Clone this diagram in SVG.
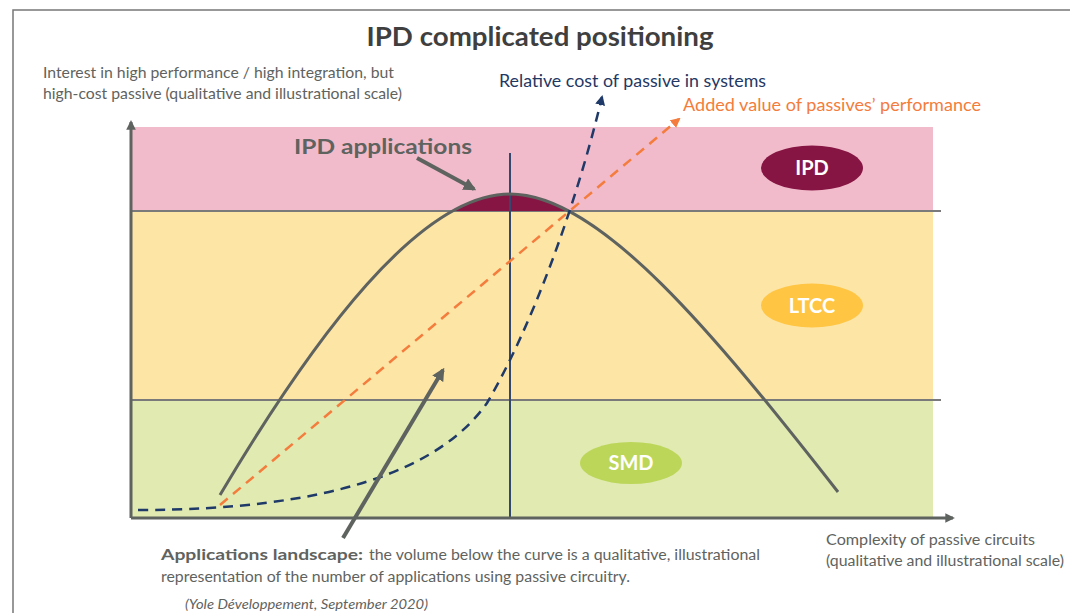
<svg xmlns="http://www.w3.org/2000/svg" width="1082" height="613" viewBox="0 0 1082 613">
<style>
.t{font-family:Lato,"Open Sans","Liberation Sans",sans-serif;}
.g{fill:#5F6360;}
.axis{stroke:#5F6360;stroke-width:3;fill:none;}
.band{stroke:#7A7A7A;stroke-width:2;fill:none;}
.pill{font-family:Lato,"Open Sans","Liberation Sans",sans-serif;font-weight:bold;font-size:20px;fill:#fff;text-anchor:middle;}
</style>
<defs>
<marker id="ag" viewBox="0 0 10 10" refX="8" refY="5" markerWidth="3.2" markerHeight="3.2" orient="auto" markerUnits="strokeWidth"><path d="M0,0 L10,5 L0,10 z" fill="#5F6360"/></marker>
<marker id="an" viewBox="0 0 10 10" refX="8" refY="5" markerWidth="4" markerHeight="4" orient="auto" markerUnits="strokeWidth"><path d="M0,0 L10,5 L0,10 z" fill="#1F3A68"/></marker>
<marker id="ao" viewBox="0 0 10 10" refX="8" refY="5" markerWidth="4" markerHeight="4" orient="auto" markerUnits="strokeWidth"><path d="M0,0 L10,5 L0,10 z" fill="#F47C3C"/></marker>
<clipPath id="topclip"><rect x="130" y="120" width="810" height="91"/></clipPath>
</defs>
<!-- frame -->
<path d="M13,613 L13,10 L1070,10" fill="none" stroke="#777" stroke-width="1.5"/>
<text class="t" x="540" y="46" font-size="27" font-weight="bold" fill="#3F3F3F" text-anchor="middle" textLength="347" lengthAdjust="spacingAndGlyphs">IPD complicated positioning</text>
<!-- bands -->
<g id="bands">
<rect x="131" y="127" width="802" height="84" fill="#F2BBCB"/>
<rect x="131" y="211" width="802" height="189" fill="#FDE5A6"/>
<rect x="131" y="400" width="802" height="117" fill="#E0EAB1"/>
<line class="band" x1="131" y1="211" x2="941" y2="211"/>
<line class="band" x1="131" y1="400" x2="941" y2="400"/>
</g>
<!-- IPD applications area -->
<g id="ipd-area">
<path d="M220,495 C315,335 420,194 510,194 C600,194 715,335 838,492 Z" fill="#861543" clip-path="url(#topclip)"/>
</g>
<g id="connectors">
<line x1="510" y1="153" x2="510" y2="517" stroke="#34486E" stroke-width="2"/>
<path d="M220,495 C315,335 420,194 510,194 C600,194 715,335 838,492" fill="none" stroke="#5F6360" stroke-width="3"/>
<line x1="220" y1="505" x2="679" y2="119" stroke="#F47C3C" stroke-width="2.5" stroke-dasharray="10,7" marker-end="url(#ao)"/>
<path d="M138,510 C330,510 440,470 487,403 C530,330 575,210 602,97" fill="none" stroke="#1F3A68" stroke-width="2.5" stroke-dasharray="10,7" marker-end="url(#an)"/>
<line class="axis" x1="131" y1="518" x2="131" y2="122" marker-end="url(#ag)"/>
<line class="axis" x1="131" y1="518" x2="953" y2="518" marker-end="url(#ag)"/>
<line x1="417" y1="158" x2="474" y2="189" stroke="#5F6360" stroke-width="4" marker-end="url(#ag)"/>
<line x1="343" y1="538" x2="443" y2="370" stroke="#5F6360" stroke-width="4" marker-end="url(#ag)"/>
</g>
<g id="node-ipd"><ellipse cx="812" cy="168" rx="51" ry="22.5" fill="#861543"/><text class="pill" x="812" y="175">IPD</text></g>
<g id="node-ltcc"><ellipse cx="812" cy="305.5" rx="51" ry="22" fill="#FFC543"/><text class="pill" x="812" y="312.5">LTCC</text></g>
<g id="node-smd"><ellipse cx="631" cy="463" rx="51" ry="21" fill="#BCD65A"/><text class="pill" x="631" y="470">SMD</text></g>
<!-- labels -->
<g id="labels">
<text class="t g" x="43" y="78" font-size="15" textLength="351" lengthAdjust="spacingAndGlyphs">Interest in high performance / high integration, but</text>
<text class="t g" x="43" y="99" font-size="15" textLength="359" lengthAdjust="spacingAndGlyphs">high-cost passive (qualitative and illustrational scale)</text>
<text class="t" x="499" y="87" font-size="17" fill="#1F3864" textLength="267" lengthAdjust="spacingAndGlyphs">Relative cost of passive in systems</text>
<text class="t" x="683" y="111" font-size="17" fill="#F47C3C" textLength="298" lengthAdjust="spacingAndGlyphs">Added value of passives’ performance</text>
<text class="t g" x="294" y="154" font-size="21" font-weight="bold" textLength="178" lengthAdjust="spacingAndGlyphs">IPD applications</text>
<text class="t g" x="161" y="560" font-size="14.5" font-weight="bold" textLength="202" lengthAdjust="spacingAndGlyphs">Applications landscape:</text>
<text class="t g" x="369" y="560" font-size="14.5" textLength="391" lengthAdjust="spacingAndGlyphs">the volume below the curve is a qualitative, illustrational</text>
<text class="t g" x="161" y="582" font-size="14.5" textLength="469" lengthAdjust="spacingAndGlyphs">representation of the number of applications using passive circuitry.</text>
<text class="t g" x="185" y="609" font-size="13" font-style="italic" textLength="243" lengthAdjust="spacingAndGlyphs">(Yole Développement, September 2020)</text>
<text class="t g" x="826" y="545" font-size="14.5" textLength="209" lengthAdjust="spacingAndGlyphs">Complexity of passive circuits</text>
<text class="t g" x="826" y="566" font-size="14.5" textLength="238" lengthAdjust="spacingAndGlyphs">(qualitative and illustrational scale)</text>
</g>
</svg>
